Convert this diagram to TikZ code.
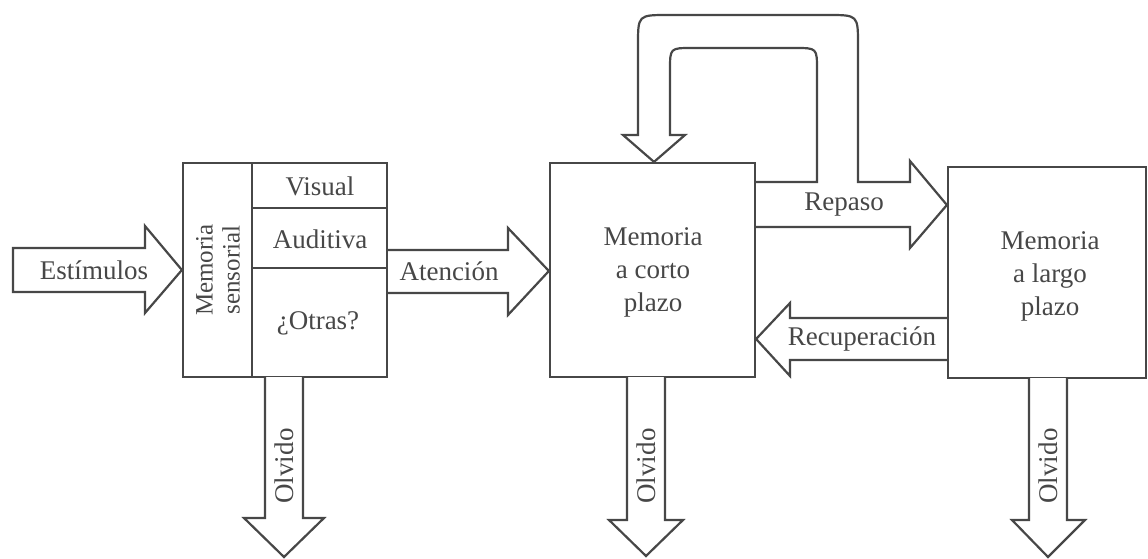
\documentclass[tikz,border=0pt]{standalone}
\usepackage{fontspec}
\setmainfont{Liberation Serif}
\begin{document}
\begin{tikzpicture}[x=1pt,y=-1pt,
  linecol/.style={draw=black!72, line width=2.2pt, line join=miter},
  box/.style={linecol, fill=white, rectangle, inner sep=0pt},
  lbl/.style={text=black!72, inner sep=0pt, font=\fontsize{27}{33}\selectfont, align=center},
  blk/.style={linecol, fill=white}]
\useasboundingbox (0,0) rectangle (1148,559);

% boxes
\node[box, minimum width=204pt, minimum height=214pt] (sens) at (285,270) {};
\node[box, minimum width=205pt, minimum height=214pt] (stm) at (652.5,270) {};
\node[box, minimum width=198pt, minimum height=211pt] (ltm) at (1047,272.5) {};

% sensory subdivisions
\coordinate (dv1) at (252,163);
\coordinate (dv2) at (252,377);
\draw[linecol] (dv1) -- (dv2);
\draw[linecol] (252,208) -- (sens.east |- 0,208);
\draw[linecol] (252,268) -- (sens.east |- 0,268);

% Estimulos arrow
\draw[blk] (13,248) -- (145,248) -- (145,226) -- (sens.west |- 0,270) -- (145,313) -- (145,292) -- (13,292) -- cycle;
\node[lbl] (est) at (94,270) {Estímulos};

% Atencion arrow
\draw[blk] (sens.east |- 0,250) -- (508,250) -- (508,228) -- (stm.west |- 0,271) -- (508,315) -- (508,293) -- (sens.east |- 0,293);
\node[lbl] (ate) at (449,271) {Atención};

% loop + Repaso arrow
\draw[blk] (stm.east |- 0,182) -- (817,182) -- (817,70) .. controls (817,48) .. (795,48) -- (692,48)
  .. controls (670,48) .. (670,70) -- (670,135) -- (685,135) -- (stm.north -| 654,0) -- (623,135) -- (638,135)
  -- (638,45) .. controls (638,15) .. (668,15) -- (828,15) .. controls (858,15) .. (858,45) -- (858,182)
  -- (910,182) -- (910,161) -- (ltm.west |- 0,205) -- (910,248) -- (910,227) -- (stm.east |- 0,227);
\node[lbl] (rep) at (844,205) {Repaso};

% Recuperacion arrow
\draw[blk] (ltm.west |- 0,318) -- (790,318) -- (790,303) -- (stm.east |- 0,339) -- (790,376) -- (790,360) -- (ltm.west |- 0,360);
\node[lbl] (rec) at (862,339) {Recuperación};

% Olvido arrows
\draw[blk] (265,377) -- (265,518) -- (244,518) -- (284,557) -- (324,518) -- (303,518) -- (303,377);
\node[lbl, rotate=90] (olv1) at (284,466) {Olvido};
\draw[blk] (627,377) -- (627,520) -- (609,520) -- (646,556) -- (683,520) -- (665,520) -- (665,377);
\node[lbl, rotate=90] (olv2) at (646,466) {Olvido};
\draw[blk] (1029,378) -- (1029,520) -- (1012,520) -- (1048,557) -- (1085,520) -- (1067,520) -- (1067,378);
\node[lbl, rotate=90] (olv3) at (1048,466) {Olvido};

% texts
\node[lbl, rotate=90, font=\fontsize{25}{27}\selectfont] (mstxt) at (218,270) {Memoria\\sensorial};
\node[lbl] (vis) at (320,186) {Visual};
\node[lbl] (aud) at (320,239) {Auditiva};
\node[lbl] (otr) at (318,323) {¿Otras?};
\node[lbl] (stmtxt) at (653,272) {Memoria\\a corto\\plazo};
\node[lbl] (ltmtxt) at (1050,276) {Memoria\\a largo\\plazo};
\end{tikzpicture}
\end{document}
